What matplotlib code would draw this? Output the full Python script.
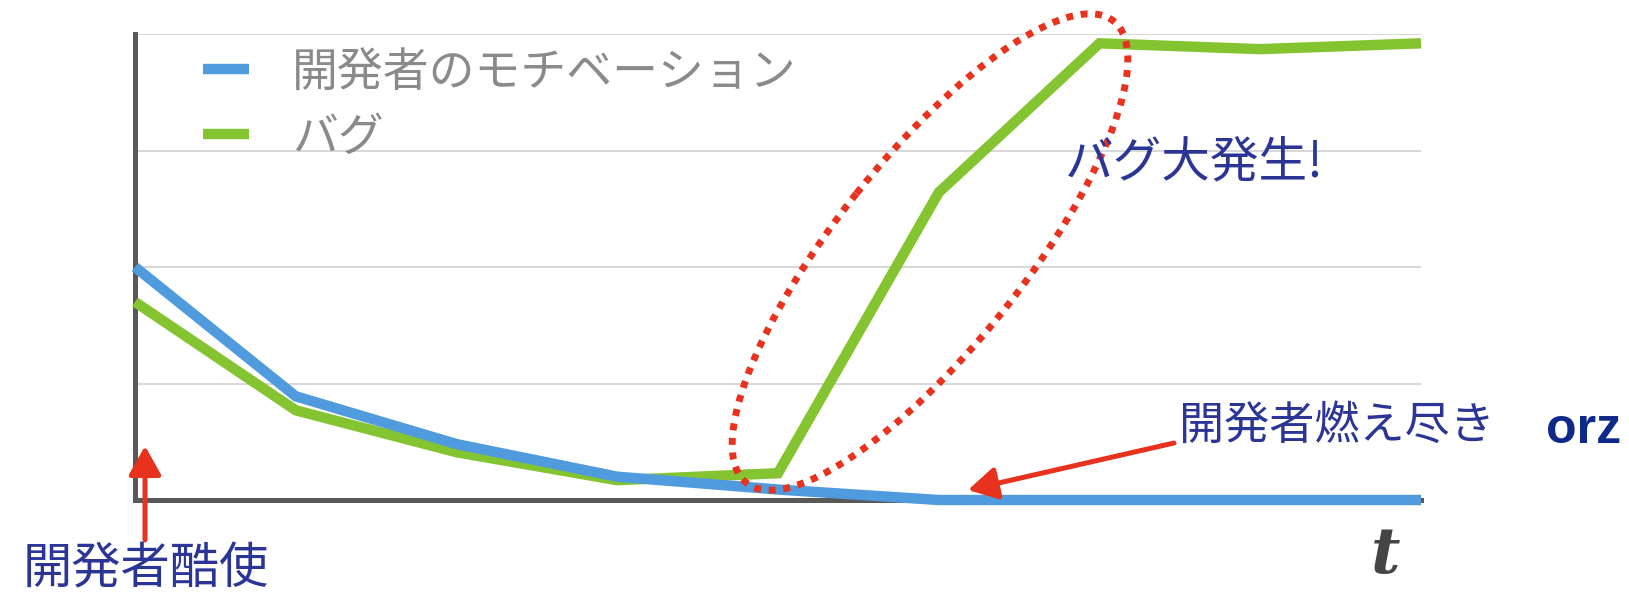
import matplotlib
matplotlib.use("Agg")
import matplotlib.pyplot as plt
from matplotlib.patches import Ellipse, FancyArrowPatch

plt.rcParams['font.family'] = ['Noto Sans CJK JP', 'DejaVu Sans']

# === DATA ===
t = [0, 1, 2, 3, 4, 5, 6, 7, 8]
motivation = [2.0, 0.89, 0.48, 0.2, 0.09, 0.0, 0.0, 0.0, 0.0]
bugs = [1.7, 0.77, 0.41, 0.17, 0.23, 2.64, 3.92, 3.87, 3.92]
labels = ["開発者のモチベーション", "バグ"]

BLUE = "#4f9bde"
GREEN = "#84c431"
RED = "#e8321e"
NAVY = "#2a3596"

W, H = 1629, 600
fig = plt.figure(figsize=(W / 100, H / 100), dpi=100)
ax = fig.add_axes([135 / W, 1 - 500 / H, (1421 - 135) / W, (500 - 34) / H])

lg, = ax.plot(t, bugs, color=GREEN, lw=7.5, clip_on=False, zorder=3,
              solid_joinstyle="miter", solid_capstyle="butt")
lb, = ax.plot(t, motivation, color=BLUE, lw=7.5, clip_on=False, zorder=4,
              solid_joinstyle="miter", solid_capstyle="butt")

ax.set_xlim(0, 8)
ax.set_ylim(0, 4)
ax.set_yticks([1, 2, 3, 4])
ax.set_xticks([])
ax.tick_params(left=False, labelleft=False)
ax.grid(axis="y", color="#d4d4d4", lw=1.3)
for s in ["top", "right"]:
    ax.spines[s].set_visible(False)
for s in ["left", "bottom"]:
    ax.spines[s].set_color("#585858")
    ax.spines[s].set_linewidth(3.6)
    ax.spines[s].set_zorder(2)

leg = ax.legend([lb, lg], labels, loc="upper left",
                bbox_to_anchor=(203 / W, 1 - 48 / H), bbox_transform=fig.transFigure,
                frameon=False, fontsize=33, handlelength=1.0, handletextpad=0.95,
                labelspacing=0.36, borderpad=0, borderaxespad=0)
for txt in leg.get_texts():
    txt.set_color("#8a8a8a")

# === OVERLAY (pixel coordinates) ===
ov = fig.add_axes([0, 0, 1, 1], zorder=5)
ov.set_xlim(0, W)
ov.set_ylim(H, 0)
ov.axis("off")
ov.patch.set_alpha(0)

ell = Ellipse((930, 252), 590, 188, angle=-51.5, fill=False, edgecolor=RED,
              lw=5, linestyle=(0, (1, 1.1)))
ov.add_patch(ell)

ov.text(1065, 164, "バグ大発生!", color=NAVY, fontsize=35, va="center", ha="left")
ov.text(1179, 426, "開発者燃え尽き", color=NAVY, fontsize=32.5, va="center", ha="left")
ov.text(1546, 430, "orz", color="#0d2a8a", fontsize=36, fontweight="bold",
        family="Liberation Sans", va="center", ha="left")
ov.text(23, 569, "開発者酷使", color=NAVY, fontsize=35.5, va="center", ha="left")
ov.text(1386, 556, "t", color="#454545", fontsize=46, fontweight="bold",
        fontstyle="italic", family="DejaVu Serif", va="center", ha="center")

for tail, head in [((145, 540), (145, 446)), ((1174, 443), (968, 490))]:
    ov.add_patch(FancyArrowPatch(tail, head, arrowstyle="-|>,head_length=1.6,head_width=0.9",
                                 mutation_scale=11, color=RED, lw=3.6,
                                 shrinkA=0, shrinkB=0))

fig.savefig("out.png", dpi=100)
